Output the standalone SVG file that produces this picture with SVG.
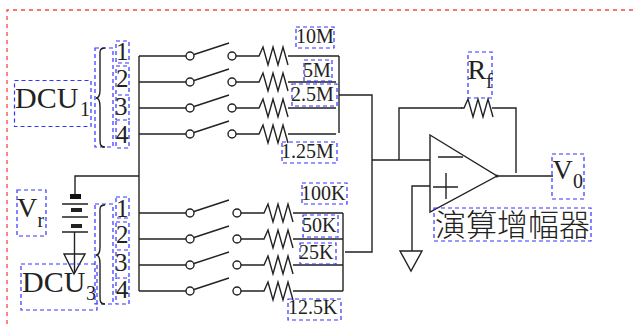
<svg xmlns="http://www.w3.org/2000/svg" width="634" height="324" viewBox="0 0 634 324">
<style>
.w{fill:none;stroke:#222;stroke-width:1.4}
.f{fill:#fff;stroke:#222;stroke-width:1.2}
.b{fill:none;stroke:#33f;stroke-width:1.2;stroke-dasharray:4 3}
.r{fill:none;stroke:#f44;stroke-width:1.3;stroke-dasharray:4 4}
text{font-family:"Liberation Serif","Noto Serif",serif;fill:#222}
.s{font-size:20px}.d{font-size:25px}.l{font-size:30px}.m{font-size:28px}.u{font-size:20px}
.c{font-size:31px;font-family:"Noto Sans CJK TC",sans-serif;font-weight:300}
</style>
<defs>
<path id="z" class="w" d="M0 0 L3 0 L7 -9 L12 9 L17 -9 L22 9 L27 -9 L32 9"/>
<g id="sw"><circle class="w" cx="0" cy="0" r="4"/><path class="w" d="M4 -1.500 L39 -13"/></g>
<path id="cr" class="w" d="M0 0 C-6 0 -5 4 -5 9 V42 C-5 47 -6 50 -9 50 C-6 50 -5 54 -5 59 V91 C-5 96 -5 99 0 99"/>
</defs>
<path class="r" d="M7 324 V10 H634"/>
<g id="connectors">
<path class="w" d="M139 56 V291 M139 56 H186 M139 82 H186 M139 108 H186 M139 134 H186 M139 213 H186 M139 239 H186 M139 265 H186 M139 291 H186"/>
<path class="w" d="M139 176 H75 V196"/>
<path class="w" d="M236 56 H256 M288 56 H339 M236 82 H256 M288 82 H336 M236 108 H256 M288 108 H336 M236 134 H256 M288 134 H336 M339 56 V133 M339 95 H372 V252 H345"/>
<path class="w" d="M241 213 H261 M293 213 H343 M241 239 H261 M293 239 H343 M241 265 H261 M293 265 H343 M241 291 H261 M293 291 H343 M343 213 V291"/>
<path class="w" d="M372 160 H430 M399 160 V108 H462 M492 108 H516 V173 M497 176 H553 M430 186 H412 V251"/>
<path class="w" d="M74.500 232 V273"/>
</g>
<g id="battery">
<rect x="70" y="194" width="11" height="5" fill="#111"/><rect x="71" y="208" width="11" height="4" fill="#222"/><rect x="71" y="224" width="11" height="4" fill="#222"/>
<path class="w" d="M62 204 H88 M62 217 H88 M62 232 H88"/>
</g>
<g id="ground-left"><path class="w" d="M64 254 H85 L74 274 Z"/></g>
<g id="ground-right"><path class="w" d="M400 251 H422 L411 271 Z"/></g>
<g id="switches-upper">
<use href="#sw" x="190" y="56"/><circle class="w" cx="232" cy="56" r="4"/><use href="#sw" x="190" y="82"/><circle class="w" cx="232" cy="82" r="4"/><use href="#sw" x="190" y="108"/><circle class="w" cx="232" cy="108" r="4"/><use href="#sw" x="190" y="134"/><circle class="w" cx="232" cy="134" r="4"/>
</g>
<g id="switches-lower">
<use href="#sw" x="190" y="213"/><circle class="w" cx="237" cy="213" r="4"/><use href="#sw" x="190" y="239"/><circle class="w" cx="237" cy="239" r="4"/><use href="#sw" x="190" y="265"/><circle class="w" cx="237" cy="265" r="4"/><use href="#sw" x="190" y="291"/><circle class="w" cx="237" cy="291" r="4"/>
</g>
<g id="resistors">
<use href="#z" x="256" y="56"/><use href="#z" x="256" y="82"/><use href="#z" x="256" y="108"/><use href="#z" x="256" y="134"/>
<use href="#z" x="261" y="213"/><use href="#z" x="261" y="239"/><use href="#z" x="261" y="265"/><use href="#z" x="261" y="291"/>
<use href="#z" x="461" y="108"/>
</g>
<g id="opamp">
<path class="w" d="M430 135 L497 176 L430 212 Z M438 157 H463 M433 187 H458 M446 173 V199"/>
<circle cx="497" cy="176" r="1.500" fill="#222"/>
</g>
<g id="dcu1"><rect class="b" x="14.500" y="80.500" width="76.500" height="46"/><text class="l" x="15" y="108">DCU</text><text class="u" x="80" y="116">1</text></g>
<g id="brace1">
<rect class="b" x="95" y="48" width="18" height="99"/><use href="#cr" x="105" y="48"/>
<rect class="b" x="116" y="41" width="13" height="22"/><text class="d" x="116" y="60">1</text>
<rect class="b" x="116" y="66" width="13" height="29"/><text class="d" x="116" y="87">2</text>
<path class="b" d="M116 97 V120 M129 97 V120"/><text class="d" x="115" y="115">3</text>
<rect class="b" x="116" y="120" width="13" height="28"/><text class="d" x="116" y="143">4</text>
</g>
<g id="vr"><rect class="b" x="17" y="190" width="29" height="46"/><text class="m" x="17" y="217">V</text><text class="u" x="37.500" y="227">r</text></g>
<g id="dcu3"><rect class="b" x="21" y="264" width="76" height="46"/><text class="l" x="22" y="292">DCU</text><text class="u" x="86" y="300">3</text></g>
<g id="brace3">
<rect class="b" x="95" y="204" width="18" height="100"/><use href="#cr" x="105" y="205"/>
<rect class="b" x="116" y="197" width="13" height="21"/><text class="d" x="116" y="217">1</text>
<rect class="b" x="116" y="222" width="13" height="28"/><text class="d" x="116" y="243">2</text>
<path class="b" d="M116 252 V278 M129 252 V278"/><text class="d" x="115" y="271">3</text>
<rect class="b" x="116" y="278" width="13" height="26"/><text class="d" x="116" y="298">4</text>
</g>
<g id="labels-upper">
<rect class="b" x="296" y="27" width="38" height="21"/><text class="s" x="296" y="43">10M</text>
<rect class="b" x="304" y="60" width="28" height="21"/><text class="s" x="303" y="77">5M</text>
<rect class="b" x="292" y="84" width="45" height="22"/><text class="s" x="291" y="101">2.5M</text>
<rect class="b" x="282" y="142" width="55" height="21"/><text class="s" x="281" y="158">1.25M</text>
</g>
<g id="labels-lower">
<rect class="b" x="302" y="183" width="45" height="21"/><text class="s" x="301" y="200">100K</text>
<rect class="b" x="303" y="215" width="35" height="22"/><text class="s" x="302" y="232">50K</text>
<rect class="b" x="300" y="243" width="36" height="21"/><text class="s" x="299" y="259">25K</text>
<rect class="b" x="288" y="299" width="53" height="21"/><text class="s" x="288" y="314">12.5K</text>
</g>
<g id="rf"><rect class="b" x="468" y="52" width="24" height="46"/><text class="m" x="467.500" y="79">R</text><text class="u" x="486" y="88">f</text></g>
<g id="v0"><rect class="b" x="552" y="154" width="32" height="45"/><text class="m" x="552.500" y="179">V</text><text class="u" x="573" y="188">0</text></g>
<g id="amp-label"><rect class="b" x="434" y="208" width="157" height="33"/><text class="c" x="435" y="236" lang="zh-TW">演算增幅器</text></g>
</svg>
